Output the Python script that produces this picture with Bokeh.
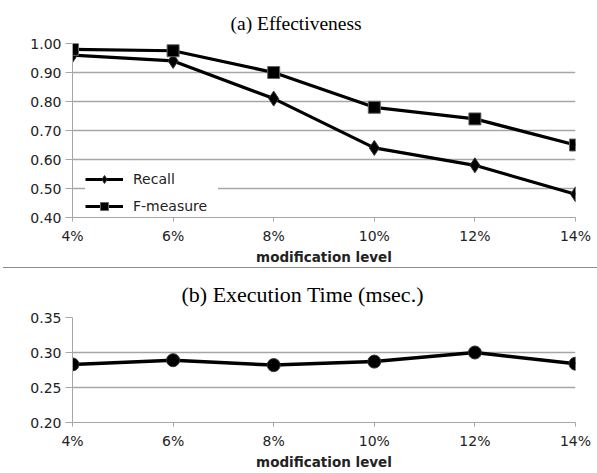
from bokeh.plotting import figure
from bokeh.models import FixedTicker, Legend, LegendItem, Div, Range1d, NumeralTickFormatter
from bokeh.layouts import column
from bokeh.embed import file_html
from bokeh.resources import INLINE

levels = [4, 6, 8, 10, 12, 14]
level_labels = ["4%", "6%", "8%", "10%", "12%", "14%"]
recall = [0.96, 0.94, 0.81, 0.64, 0.58, 0.48]
fmeasure = [0.98, 0.975, 0.90, 0.78, 0.74, 0.65]
exec_time = [0.283, 0.289, 0.282, 0.287, 0.300, 0.284]
eff_ticks = [0.40, 0.50, 0.60, 0.70, 0.80, 0.90, 1.00]
time_ticks = [0.20, 0.25, 0.30, 0.35]
title_a = "(a) Effectiveness"
title_b = "(b) Execution Time (msec.)"

GRID = "#a6a6a6"
TXT = "#222222"
TICKFONT = "DejaVu Sans"


def style(p, yticks, fmt, title_size, title_standoff, title_offset):
    p.x_range = Range1d(levels[0], levels[-1])
    p.y_range = Range1d(yticks[0], yticks[-1])
    p.outline_line_color = None
    p.background_fill_color = "white"
    p.border_fill_color = "white"
    p.title.text_font = "Liberation Serif"
    p.title.text_font_size = title_size
    p.title.text_font_style = "normal"
    p.title.align = "left"
    p.title.text_color = "black"
    p.title.standoff = title_standoff
    p.title.offset = title_offset
    xa = p.xaxis[0]
    xa.ticker = FixedTicker(ticks=levels)
    xa.major_label_overrides = {lv: lb for lv, lb in zip(levels, level_labels)}
    xa.axis_label = "modification level"
    xa.axis_label_text_font = TICKFONT
    xa.axis_label_text_font_style = "bold"
    xa.axis_label_text_font_size = "13.5px"
    xa.axis_label_text_color = TXT
    xa.axis_label_standoff = 2
    xa.major_label_text_font = TICKFONT
    xa.major_label_text_font_size = "14px"
    xa.major_label_text_color = TXT
    xa.major_label_standoff = 6
    xa.axis_line_color = GRID
    xa.major_tick_line_color = GRID
    xa.major_tick_out = 4
    xa.major_tick_in = 0
    xa.minor_tick_line_color = None
    ya = p.yaxis[0]
    ya.ticker = FixedTicker(ticks=yticks)
    ya.formatter = NumeralTickFormatter(format=fmt)
    ya.major_label_text_font = TICKFONT
    ya.major_label_text_font_size = "14px"
    ya.major_label_text_color = TXT
    ya.major_label_standoff = 4
    ya.axis_line_color = GRID
    ya.major_tick_line_color = GRID
    ya.major_tick_out = 7
    ya.major_tick_in = 0
    ya.minor_tick_line_color = None
    p.xgrid.grid_line_color = None
    p.ygrid.grid_line_color = GRID
    p.ygrid.grid_line_width = 1.3


p1 = figure(width=597, height=267, output_backend="svg", toolbar_location=None,
            title=title_a, min_border_left=72, min_border_right=22,
            min_border_top=43, min_border_bottom=48)
style(p1, eff_ticks, "0.00", "19.5px", 20, 158)
l1 = p1.line(levels, recall, line_color="black", line_width=3.2)
s1 = p1.scatter(levels, recall, marker="diamond", size=15, fill_color="black",
                line_color="#333333")
l2 = p1.line(levels, fmeasure, line_color="black", line_width=3.2)
s2 = p1.scatter(levels, fmeasure, marker="square", size=12, fill_color="black",
                line_color="#666666", line_width=1)
legend = Legend(items=[LegendItem(label="Recall", renderers=[l1, s1]),
                       LegendItem(label="F-measure", renderers=[l2, s2])],
                location=(13, 1), orientation="vertical")
legend.background_fill_color = "white"
legend.background_fill_alpha = 1.0
legend.border_line_color = None
legend.label_text_font = TICKFONT
legend.label_text_font_size = "14px"
legend.label_text_color = TXT
legend.glyph_width = 38
legend.glyph_height = 20
legend.label_width = 85
legend.spacing = 7
legend.padding = 6
legend.margin = 0
legend.label_standoff = 10
p1.add_layout(legend)

sep = Div(width=594, height=1, margin=(0, 0, 0, 3),
          styles={"background-color": "#8c8c8c"})

p2 = figure(width=597, height=204, output_backend="svg", toolbar_location=None,
            title=title_b, min_border_left=72, min_border_right=22,
            min_border_top=48, min_border_bottom=47)
style(p2, time_ticks, "0.00", "22px", 22, 109)
p2.line(levels, exec_time, line_color="black", line_width=3.5)
p2.scatter(levels, exec_time, marker="circle", size=13, fill_color="black",
           line_color="#333333")

layout = column(p1, sep, p2, spacing=0)
open("out.html", "w").write(file_html(layout, INLINE))
